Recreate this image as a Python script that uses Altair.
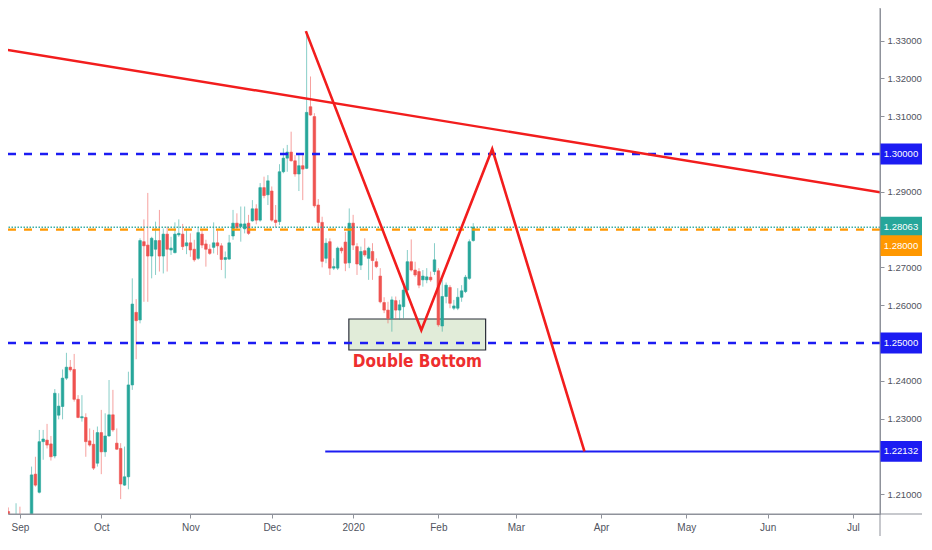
import altair as alt
import pandas as pd

# ---------------- data ----------------
bar_idx = list(range(-3, 118))
open_ = [1.2054, 1.2000, 1.1990, 1.2030, 1.2010, 1.1980, 1.2020, 1.2153, 1.2105, 1.2239,
         1.2243, 1.2233, 1.2201, 1.2309, 1.2332, 1.2407, 1.2436, 1.2430, 1.2351, 1.2302,
         1.2303, 1.2241, 1.2232, 1.2182, 1.2263, 1.2212, 1.2254, 1.2310, 1.2235, 1.2221,
         1.2124, 1.2146, 1.2389, 1.2581, 1.2561, 1.2768, 1.2759, 1.2730, 1.2748, 1.2771,
         1.2730, 1.2788, 1.2746, 1.2739, 1.2786, 1.2788, 1.2757, 1.2765, 1.2748, 1.2724,
         1.2788, 1.2762, 1.2748, 1.2753, 1.2765, 1.2757, 1.2721, 1.2722, 1.2783, 1.2817,
         1.2808, 1.2802, 1.2817, 1.2823, 1.2855, 1.2825, 1.2911, 1.2892, 1.2902, 1.2825,
         1.2821, 1.2953, 1.2989, 1.3005, 1.2982, 1.2947, 1.2969, 1.2962, 1.3125, 1.3099,
         1.2865, 1.2819, 1.2724, 1.2768, 1.2698, 1.2698, 1.2751, 1.2767, 1.2712, 1.2817,
         1.2755, 1.2706, 1.2744, 1.2724, 1.2742, 1.2715, 1.2677, 1.2607, 1.2587, 1.2565,
         1.2612, 1.2587, 1.2596, 1.2640, 1.2715, 1.2693, 1.2689, 1.2667, 1.2667, 1.2674,
         1.2689, 1.2691, 1.2545, 1.2623, 1.2647, 1.2592, 1.2592, 1.2621, 1.2636, 1.2671,
         1.2771]
high = [1.2065, 1.2025, 1.2076, 1.2067, 1.2030, 1.2030, 1.2173, 1.2199, 1.2270, 1.2270,
        1.2286, 1.2254, 1.2378, 1.2367, 1.2430, 1.2474, 1.2455, 1.2471, 1.2362, 1.2362,
        1.2314, 1.2274, 1.2270, 1.2279, 1.2323, 1.2314, 1.2402, 1.2376, 1.2274, 1.2235,
        1.2226, 1.2424, 1.2671, 1.2616, 1.2777, 1.2827, 1.2897, 1.2781, 1.2821, 1.2852,
        1.2803, 1.2808, 1.2781, 1.2819, 1.2827, 1.2815, 1.2799, 1.2790, 1.2773, 1.2806,
        1.2801, 1.2773, 1.2761, 1.2819, 1.2797, 1.2764, 1.2742, 1.2786, 1.2852, 1.2843,
        1.2861, 1.2861, 1.2839, 1.2878, 1.2867, 1.2923, 1.2940, 1.2944, 1.2914, 1.2865,
        1.2973, 1.3015, 1.3024, 1.3059, 1.2997, 1.2997, 1.2997, 1.3324, 1.3205, 1.3108,
        1.2881, 1.2834, 1.2777, 1.2777, 1.2724, 1.2755, 1.2755, 1.2794, 1.2856, 1.2839,
        1.2764, 1.2755, 1.2777, 1.2755, 1.2764, 1.2724, 1.2698, 1.2621, 1.2609, 1.2623,
        1.2623, 1.2614, 1.2651, 1.2746, 1.2774, 1.2715, 1.2698, 1.2693, 1.2698, 1.2689,
        1.2764, 1.2698, 1.2667, 1.2660, 1.2653, 1.2614, 1.2645, 1.2653, 1.2680, 1.2774,
        1.2817]
low = [1.1980, 1.1975, 1.1985, 1.1990, 1.1960, 1.1960, 1.2000, 1.2120, 1.2102, 1.2191,
       1.2221, 1.2189, 1.2195, 1.2298, 1.2298, 1.2402, 1.2424, 1.2345, 1.2301, 1.2292,
       1.2199, 1.2226, 1.2164, 1.2173, 1.2153, 1.2199, 1.2252, 1.2265, 1.2217, 1.2087,
       1.2122, 1.2113, 1.2376, 1.2457, 1.2552, 1.2609, 1.2609, 1.2671, 1.2680, 1.2689,
       1.2684, 1.2689, 1.2733, 1.2737, 1.2781, 1.2746, 1.2735, 1.2728, 1.2715, 1.2720,
       1.2751, 1.2702, 1.2733, 1.2737, 1.2733, 1.2693, 1.2671, 1.2720, 1.2773, 1.2799,
       1.2768, 1.2790, 1.2786, 1.2821, 1.2814, 1.2821, 1.2883, 1.2865, 1.2821, 1.2806,
       1.2812, 1.2949, 1.2953, 1.2980, 1.2940, 1.2902, 1.2878, 1.2960, 1.3101, 1.2858,
       1.2808, 1.2700, 1.2711, 1.2680, 1.2693, 1.2693, 1.2737, 1.2690, 1.2698, 1.2746,
       1.2680, 1.2693, 1.2728, 1.2667, 1.2667, 1.2698, 1.2605, 1.2579, 1.2552, 1.2530,
       1.2565, 1.2561, 1.2565, 1.2623, 1.2689, 1.2675, 1.2645, 1.2649, 1.2658, 1.2662,
       1.2680, 1.2543, 1.2530, 1.2605, 1.2592, 1.2587, 1.2587, 1.2609, 1.2632, 1.2667,
       1.2768]
close = [1.2000, 1.1990, 1.2025, 1.2010, 1.1980, 1.2020, 1.2151, 1.2124, 1.2239, 1.2246,
         1.2230, 1.2199, 1.2367, 1.2333, 1.2407, 1.2436, 1.2429, 1.2351, 1.2303, 1.2305,
         1.2239, 1.2230, 1.2169, 1.2263, 1.2212, 1.2254, 1.2310, 1.2270, 1.2219, 1.2127,
         1.2146, 1.2389, 1.2603, 1.2559, 1.2771, 1.2757, 1.2730, 1.2777, 1.2771, 1.2730,
         1.2788, 1.2748, 1.2751, 1.2788, 1.2790, 1.2755, 1.2765, 1.2746, 1.2720, 1.2792,
         1.2759, 1.2748, 1.2737, 1.2765, 1.2757, 1.2721, 1.2726, 1.2765, 1.2817, 1.2805,
         1.2815, 1.2815, 1.2790, 1.2855, 1.2825, 1.2911, 1.2890, 1.2929, 1.2825, 1.2819,
         1.2953, 1.2989, 1.3005, 1.2982, 1.2947, 1.2969, 1.2960, 1.3110, 1.3103, 1.2863,
         1.2819, 1.2716, 1.2764, 1.2698, 1.2702, 1.2751, 1.2744, 1.2711, 1.2817, 1.2759,
         1.2709, 1.2742, 1.2733, 1.2751, 1.2718, 1.2702, 1.2609, 1.2587, 1.2565, 1.2614,
         1.2587, 1.2601, 1.2640, 1.2715, 1.2693, 1.2680, 1.2653, 1.2677, 1.2675, 1.2667,
         1.2720, 1.2548, 1.2623, 1.2653, 1.2605, 1.2598, 1.2621, 1.2638, 1.2674, 1.2768,
         1.28063]

month_idx = [0, 21, 44, 65, 86, 108, 128, 150, 172, 193, 215]
month_labels = ["Sep", "Oct", "Nov", "Dec", "2020", "Feb", "Mar", "Apr", "May", "Jun", "Jul"]
price_ticks = [1.21, 1.22, 1.23, 1.24, 1.25, 1.26, 1.27, 1.28, 1.29, 1.30, 1.31, 1.32, 1.33]
hidden_ticks = [1.22, 1.25, 1.28, 1.30]   # covered by the price badges

blue_levels = [1.30, 1.25]
orange_level = 1.28
last_price = 1.28063
target_price = 1.22132
target_idx = [78.8, 222.7]

zz_idx = [73.8, 103.6, 121.9, 145.7]
zz_price = [1.3325, 1.2534, 1.3013, 1.22132]

trend_idx = [-3.83, 222.7]
trend_price = [1.32765, 1.28976]

box_idx = [84.9, 120.2]
box_price = [1.24815, 1.25635]

note_text = "Double Bottom"
note_idx = 102.6
note_price = 1.2450

badge_prices = [1.30, 1.28063, 1.28, 1.25, 1.22132]
badge_texts = ["1.30000", "1.28063", "1.28000", "1.25000", "1.22132"]
badge_colors = ["#1c1cf2", "#26a69a", "#ff9800", "#1c1cf2", "#1c1cf2"]
badge_shift = [0, 0, 16, 0, 0]

# ---------------- chart ----------------
W, H = 872, 506
SVG_W, SVG_H = 914, 528
TEAL, RED = "#26a69a", "#ef5350"
FONT = "Liberation Sans, Arial, sans-serif"

label_expr = ""
for v, l in zip(month_idx, month_labels):
    label_expr += f"datum.value == {v} ? '{l}' : "
label_expr += "''"

hide_expr = " || ".join(f"abs(datum.value - {v}) < 1e-6" for v in hidden_ticks)
ylabel_expr = f"({hide_expr}) ? '' : format(datum.value, '.5f')"

xscale = alt.Scale(domain=[-1.79, 220.7], nice=False, zero=False)
yscale = alt.Scale(domain=[1.20476, 1.33862], nice=False, zero=False)
xaxis = alt.Axis(values=month_idx, labelExpr=label_expr, title=None, grid=False,
                 tickSize=4, tickColor="#8f929b", domainColor="#8f929b",
                 labelColor="#50535e", labelFont=FONT, labelFontSize=10,
                 labelPadding=4, labelFlush=False, labelOverlap=False)
yaxis = alt.Axis(orient="right", values=price_ticks, labelExpr=ylabel_expr, title=None,
                 grid=False, tickSize=4, tickColor="#8f929b", domainColor="#8f929b",
                 labelColor="#50535e", labelFont=FONT, labelFontSize=9.5,
                 labelPadding=3, labelOverlap=False, labelFlush=False)


def X(f):
    return alt.X(f, type="quantitative", scale=xscale, axis=xaxis)


def Y(f):
    return alt.Y(f, type="quantitative", scale=yscale, axis=yaxis)


df = pd.DataFrame({"idx": bar_idx, "o": open_, "h": high, "l": low, "c": close})
df["dir"] = ["up" if c >= o else "down" for o, c in zip(df.o, df.c)]
cscale = alt.Scale(domain=["up", "down"], range=[TEAL, RED])

base = alt.Chart(df)
wicks = base.mark_rule(strokeWidth=1, opacity=0.55, clip=True).encode(
    x=X("idx"), y=Y("l"), y2="h", color=alt.Color("dir:N", scale=cscale, legend=None))
bodies = base.mark_bar(width=2.6, strokeWidth=0.6, clip=True).encode(
    x=X("idx"), y=Y("o"), y2="c",
    color=alt.Color("dir:N", scale=cscale, legend=None),
    stroke=alt.Stroke("dir:N", scale=cscale, legend=None))

box = alt.Chart(pd.DataFrame({"x0": [box_idx[0]], "x1": [box_idx[1]],
                              "y0": [box_price[0]], "y1": [box_price[1]]})).mark_rect(
    fill="#e1ecd9", stroke="#2a2e39", strokeWidth=1.2).encode(
    x=X("x0"), x2="x1", y=Y("y0"), y2="y1")

blue_rules = alt.Chart(pd.DataFrame({"p": blue_levels})).mark_rule(
    color="#1c1cf2", strokeWidth=2.6, strokeDash=[8, 8]).encode(y=Y("p"))
orange_rule = alt.Chart(pd.DataFrame({"p": [orange_level]})).mark_rule(
    color="#ff9800", strokeWidth=2.2, strokeDash=[8, 8]).encode(y=Y("p"))
last_rule = alt.Chart(pd.DataFrame({"p": [last_price]})).mark_rule(
    color="#26a69a", strokeWidth=1.6, strokeDash=[1.5, 1.5], opacity=0.9).encode(y=Y("p"))

target = alt.Chart(pd.DataFrame({"x0": [target_idx[0]], "x1": [target_idx[1]],
                                 "p": [target_price]})).mark_rule(
    color="#1c1cf2", strokeWidth=2, clip=True).encode(x=X("x0"), x2="x1", y=Y("p"))

trend = alt.Chart(pd.DataFrame({"idx": trend_idx, "p": trend_price})).mark_line(
    color="#f21d1d", strokeWidth=2.4, clip=True).encode(x=X("idx"), y=Y("p"))

zz = alt.Chart(pd.DataFrame({"idx": zz_idx, "p": zz_price, "k": list(range(len(zz_idx)))})).mark_line(
    color="#f21d1d", strokeWidth=2.6, clip=True).encode(x=X("idx"), y=Y("p"), order="k:Q")

note = alt.Chart(pd.DataFrame({"idx": [note_idx], "p": [note_price], "t": [note_text]})).mark_text(
    font="DejaVu Sans Condensed, Liberation Sans Narrow, sans-serif", fontWeight="bold",
    fontSize=17, color="#ee2e2e", align="center", baseline="middle").encode(
    x=X("idx"), y=Y("p"), text="t:N")

badges = []
for p, t, col, sh in zip(badge_prices, badge_texts, badge_colors, badge_shift):
    bdf = pd.DataFrame({"p": [p], "t": [t]})
    rect = alt.Chart(bdf).transform_calculate(
        top="datum.p + 0.00275", bot="datum.p - 0.00275").mark_rect(
        color=col, yOffset=sh, y2Offset=sh).encode(
        x=alt.value(W), x2=alt.value(SVG_W), y=Y("top"), y2="bot")
    txt = alt.Chart(bdf).mark_text(color="white", font=FONT, fontSize=9.5, align="center",
                                   baseline="middle", dy=sh).encode(
        x=alt.value(W + 21), y=Y("p"), text="t:N")
    badges += [rect, txt]

vline = alt.Chart(pd.DataFrame({"a": [0]})).mark_rule(color="#8f929b", strokeWidth=1).encode(
    x=alt.value(W), y=alt.value(0), y2=alt.value(SVG_H))
hline = alt.Chart(pd.DataFrame({"a": [0]})).mark_rule(color="#8f929b", strokeWidth=1).encode(
    x=alt.value(0), x2=alt.value(SVG_W), y=alt.value(H))

chart = alt.layer(
    box, wicks, bodies, blue_rules, orange_rule, last_rule, target, trend, zz, note,
    *badges, vline, hline
).properties(
    width=W, height=H,
    padding={"left": 0, "top": 0, "right": SVG_W - W, "bottom": SVG_H - H},
    autosize=alt.AutoSizeParams(type="none"),
    background="white",
).configure_view(stroke=None)

chart.save("out.html", embed_options={"renderer": "svg", "actions": False})
